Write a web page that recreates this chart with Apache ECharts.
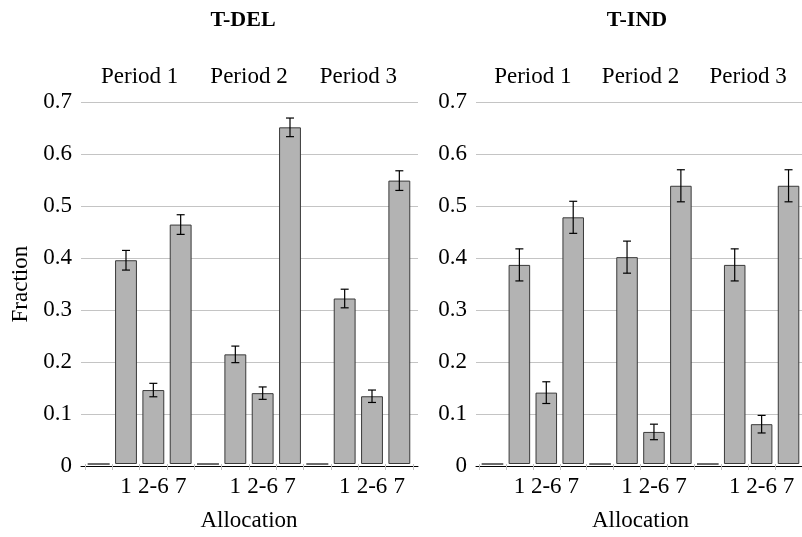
<!DOCTYPE html>
<html>
<head>
<meta charset="utf-8">
<script src="https://cdn.jsdelivr.net/npm/echarts@6/dist/echarts.min.js"></script>
<style>
  html, body { margin: 0; padding: 0; background: #fff; }
  #main { width: 802px; height: 537px; }
</style>
</head>
<body>
<div id="main"></div>
<script>
// data
var periods = ['Period 1', 'Period 2', 'Period 3'];
var allocLabels = ['', '1', '2-6', '7'];
var yTicks = [0, 0.1, 0.2, 0.3, 0.4, 0.5, 0.6, 0.7];

var delValues = [0, 0.394, 0.143, 0.463, 0, 0.212, 0.137, 0.651, 0, 0.320, 0.131, 0.548];
var delErrors = [0, 0.019, 0.013, 0.019, 0, 0.016, 0.012, 0.018, 0, 0.018, 0.012, 0.019];
var indValues = [0, 0.385, 0.138, 0.477, 0, 0.400, 0.062, 0.538, 0, 0.385, 0.077, 0.538];
var indErrors = [0, 0.031, 0.021, 0.031, 0, 0.031, 0.015, 0.031, 0, 0.031, 0.017, 0.031];

var FONT = 'Liberation Serif';
var FS = 23;

// category list: allocation labels repeated for each period
var categories = [];
periods.forEach(function() {
    allocLabels.forEach(function(a) { categories.push(a); });
});

var myChart = echarts.init(document.getElementById('main'));

// panel layout: grid "frame" carries y labels / gridlines / axis line,
// grid "bars" carries the category slots
var panels = [
    { name: 'T-DEL', values: delValues, errors: delErrors, frameLeft: 81, frameWidth: 337, barLeft: 85, barWidth: 328 },
    { name: 'T-IND', values: indValues, errors: indErrors, frameLeft: 476, frameWidth: 340, barLeft: 479, barWidth: 328 }
];
var TOP = 102, BOTTOM = 70.7;

var grid = [], xAxis = [], yAxis = [], series = [], graphic = [];

panels.forEach(function(p, k) {
    var gFrame = grid.length;
    grid.push({ left: p.frameLeft, top: TOP, width: p.frameWidth, bottom: BOTTOM });
    var gBars = grid.length;
    grid.push({ left: p.barLeft, top: TOP, width: p.barWidth, bottom: BOTTOM });

    // frame axes
    xAxis.push({
        gridIndex: gFrame, type: 'value', min: 0, max: 1,
        axisLine: { show: true, onZero: false, lineStyle: { color: '#000', width: 1 } },
        axisTick: { show: false }, axisLabel: { show: false }, splitLine: { show: false }
    });
    yAxis.push({
        gridIndex: gFrame, type: 'value', min: yTicks[0], max: yTicks[yTicks.length - 1], interval: 0.1,
        name: k === 0 ? 'Fraction' : '', nameLocation: 'middle', nameGap: 49, nameRotate: 90,
        nameTextStyle: { fontFamily: FONT, fontSize: FS, color: '#000' },
        axisLine: { show: false }, axisTick: { show: false },
        axisLabel: { margin: 9, fontFamily: FONT, fontSize: FS, color: '#000' },
        splitLine: { show: true, lineStyle: { color: '#c4c4c4', width: 1 } }
    });

    // bar axes
    var xBars = xAxis.length;
    xAxis.push({
        gridIndex: gBars, type: 'category', data: categories, boundaryGap: true,
        name: 'Allocation', nameLocation: 'middle', nameGap: 45,
        nameTextStyle: { fontFamily: FONT, fontSize: FS, color: '#000' },
        axisLine: { show: false },
        axisTick: { show: true, length: 6, lineStyle: { color: '#c4c4c4' } },
        axisLabel: { interval: 0, margin: 11, fontFamily: FONT, fontSize: FS, color: '#000' }
    });
    xAxis.push({
        gridIndex: gBars, type: 'category', data: periods, position: 'top',
        axisLine: { show: false }, axisTick: { show: false },
        axisLabel: { interval: 0, margin: 14, fontFamily: FONT, fontSize: FS, color: '#000' }
    });
    var yBars = yAxis.length;
    yAxis.push({
        gridIndex: gBars, type: 'value', min: 0, max: 0.7, show: false
    });

    series.push({
        type: 'bar', xAxisIndex: xBars, yAxisIndex: yBars,
        data: p.values, barWidth: '80%',
        itemStyle: { color: '#b3b3b3', borderColor: '#3a3a3a', borderWidth: 1 }
    });

    var errData = p.values.map(function(v, i) { return [i, v, p.errors[i]]; });
    series.push({
        type: 'custom', xAxisIndex: xBars, yAxisIndex: yBars,
        data: errData, z: 5,
        encode: { x: 0, y: 1 },
        renderItem: function(params, api) {
            var err = api.value(2);
            if (!err) return null;
            var i = api.value(0), v = api.value(1);
            var hi = api.coord([i, v + err]);
            var lo = api.coord([i, v - err]);
            var cap = 4;
            var st = { stroke: '#000', lineWidth: 1.2 };
            return {
                type: 'group',
                children: [
                    { type: 'line', shape: { x1: hi[0], y1: hi[1], x2: lo[0], y2: lo[1] }, style: st },
                    { type: 'line', shape: { x1: hi[0] - cap, y1: hi[1], x2: hi[0] + cap, y2: hi[1] }, style: st },
                    { type: 'line', shape: { x1: lo[0] - cap, y1: lo[1], x2: lo[0] + cap, y2: lo[1] }, style: st }
                ]
            };
        }
    });

    graphic.push({
        type: 'text', x: p.barLeft + p.barWidth / 2 - 6, y: 20,
        style: {
            text: p.name, fontFamily: FONT, fontSize: 22, fontWeight: 'bold', fill: '#000',
            align: 'center', verticalAlign: 'middle'
        }
    });
});

myChart.setOption({
    animation: false,
    grid: grid,
    xAxis: xAxis,
    yAxis: yAxis,
    series: series,
    graphic: graphic
});
</script>
</body>
</html>
